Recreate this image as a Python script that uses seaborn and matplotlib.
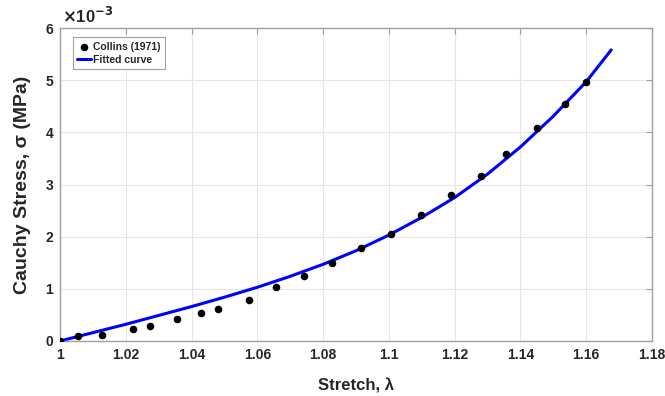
import numpy as np
import matplotlib
matplotlib.use('Agg')
import matplotlib.pyplot as plt
import seaborn as sns

# experimental points (Collins 1971), stress in 1e-3 MPa
stretch_data = [1.0, 1.0055, 1.0128, 1.0221, 1.0274, 1.0356, 1.0429, 1.0481, 1.0574,
                1.0657, 1.0741, 1.0826, 1.0914, 1.1006, 1.1098, 1.1188, 1.1281,
                1.1355, 1.145, 1.1534, 1.1598]
stress_data = [0.0, 0.096, 0.115, 0.224, 0.29, 0.415, 0.536, 0.613, 0.785,
               1.034, 1.24, 1.488, 1.787, 2.055, 2.42, 2.79, 3.16,
               3.58, 4.09, 4.54, 4.96]

# fitted curve
stretch_fit = [1.0, 1.01, 1.02, 1.03, 1.04, 1.05, 1.06, 1.07, 1.08, 1.09,
               1.10, 1.11, 1.12, 1.13, 1.14, 1.15, 1.16, 1.1676]
stress_fit = [0.0, 0.16, 0.32, 0.49, 0.66, 0.84, 1.03, 1.24, 1.47, 1.73,
              2.03, 2.37, 2.75, 3.20, 3.72, 4.31, 4.97, 5.58]

xtick_labels = ['1', '1.02', '1.04', '1.06', '1.08', '1.1', '1.12', '1.14', '1.16', '1.18']

sns.set_style('white')
plt.rcParams['font.family'] = ['Liberation Sans', 'DejaVu Sans']
plt.rcParams['font.weight'] = 'bold'
txt = '#262626'

fig = plt.figure(figsize=(6.65, 3.96), dpi=100)
ax = fig.add_axes([60 / 665, 1 - 341 / 396, 592 / 665, 313 / 396])

sns.scatterplot(x=stretch_data, y=stress_data, ax=ax, color='black', s=30,
                edgecolor='black', linewidth=0, label='Collins (1971)', zorder=3)
sns.lineplot(x=stretch_fit, y=stress_fit, ax=ax, color='#0000ff', linewidth=2.2,
             label='Fitted curve', zorder=2, sort=False)

ax.set_xlim(1.0, 1.18)
ax.set_ylim(0, 6)
ax.set_xticks(np.round(np.arange(1.0, 1.181, 0.02), 2))
ax.set_xticklabels(xtick_labels)
ax.set_yticks(range(0, 7))
ax.grid(True, color='#e6e6e6', linewidth=0.8)
ax.set_axisbelow(True)

for s in ax.spines.values():
    s.set_color('#a0a0a0')
    s.set_linewidth(1.0)
ax.tick_params(direction='in', top=True, right=True, length=4, color='#a0a0a0',
               labelsize=10, labelcolor=txt, pad=5)
for lab in ax.get_xticklabels() + ax.get_yticklabels():
    lab.set_fontweight('bold')

ax.set_xlabel('Stretch, λ', fontsize=12, fontweight='bold', color=txt, labelpad=12)
ax.set_ylabel('Cauchy Stress, σ (MPa)', fontsize=14, fontweight='bold', color=txt, labelpad=10)
ax.text(0.004, 1.006, r'$\times$10$^{\mathbf{-3}}$', transform=ax.transAxes,
        fontsize=12, color=txt, ha='left', va='bottom')

leg = ax.legend(loc='upper left', bbox_to_anchor=(0.022, 0.97), borderaxespad=0,
                fancybox=False, framealpha=1, edgecolor='#a0a0a0',
                prop={'size': 7.5, 'weight': 'bold'}, handlelength=1.3,
                handletextpad=0.25, borderpad=0.4, labelspacing=0.3)
leg.get_frame().set_linewidth(0.8)

fig.savefig('out.png', dpi=100)
